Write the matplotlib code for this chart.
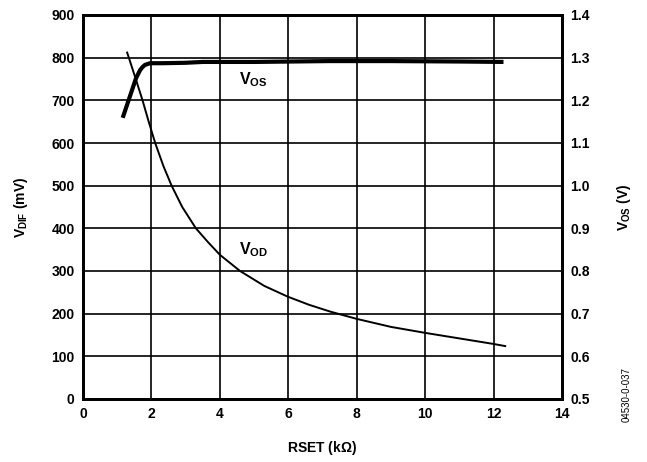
import matplotlib.pyplot as plt

plt.rcParams['font.family'] = ['Liberation Sans', 'DejaVu Sans']
plt.rcParams['font.weight'] = 'bold'
plt.rcParams['axes.labelweight'] = 'bold'
plt.rcParams['mathtext.fontset'] = 'custom'
plt.rcParams['mathtext.rm'] = 'Liberation Sans:bold'
plt.rcParams['mathtext.it'] = 'Liberation Sans:bold'
plt.rcParams['mathtext.bf'] = 'Liberation Sans:bold'

# V_OD curve (left axis, mV)
rset_od = [1.29, 1.34, 1.55, 1.74, 1.92, 2.11, 2.35, 2.59, 2.9, 3.3, 3.65, 4.0,
           4.59, 5.3, 5.98, 6.6, 7.22, 7.99, 9.0, 10.0, 11.0, 12.0, 12.34]
vod = [812, 800, 748, 700, 650, 600, 546, 500, 450, 400, 368, 338,
       300, 265, 240, 221, 205, 188, 169, 155, 142, 129, 124]

# V_OS curve (right axis, V)
rset_os = [1.16, 1.37, 1.55, 1.67, 1.74, 1.81, 1.96, 2.3, 3.0, 3.5, 5.0, 7.2, 9.0, 11.0, 12.29]
vos = [1.159, 1.209, 1.252, 1.271, 1.278, 1.283, 1.287, 1.287, 1.288, 1.290, 1.290, 1.292, 1.292, 1.291, 1.290]

fig = plt.figure(figsize=(6.47, 4.62), dpi=100)
ax = fig.add_axes([83/647, 1 - 399/462, (562-83)/647, (399-15)/462])
ax2 = ax.twinx()

ax.plot(rset_od, vod, color='black', lw=1.4)
ax2.plot(rset_os, vos, color='black', lw=3.0, solid_capstyle='butt')

ax.set_xlim(0, 14)
ax.set_ylim(0, 900)
ax2.set_ylim(0.5, 1.4)
ax.set_xticks(range(0, 15, 2))
ax.set_yticks(range(0, 901, 100))
ax2.set_yticks([0.5, 0.6, 0.7, 0.8, 0.9, 1.0, 1.1, 1.2, 1.3, 1.4])
ax2.set_yticklabels(['0.5', '0.6', '0.7', '0.8', '0.9', '1.0', '1.1', '1.2', '1.3', '1.4'])
ax.grid(True, color='black', lw=1.2)

for a in (ax, ax2):
    a.tick_params(length=0, labelsize=10, pad=6)
    for s in a.spines.values():
        s.set_linewidth(2)

ax.set_xlabel(r'RSET (k$\Omega$)', fontsize=10)
ax.xaxis.set_label_coords(0.5, -0.104)
ax.set_ylabel(r'$V_{DIF}$ (mV)', fontsize=10)
ax.yaxis.set_label_coords(-0.11, 0.5)
ax2.set_ylabel(r'$V_{OS}$ (V)', fontsize=10)
ax2.yaxis.set_label_coords(1.111, 0.5)

ax.text(4.57, 748, r'$V_{OS}$', fontsize=11.5, ha='left', va='center')
ax.text(4.57, 351, r'$V_{OD}$', fontsize=11.5, ha='left', va='center')

fig.text(627/647, 1 - 395/462, '04530-0-037', rotation=90, fontsize=7,
         fontweight='normal', ha='center', va='center')

fig.savefig('out.png', dpi=100)
